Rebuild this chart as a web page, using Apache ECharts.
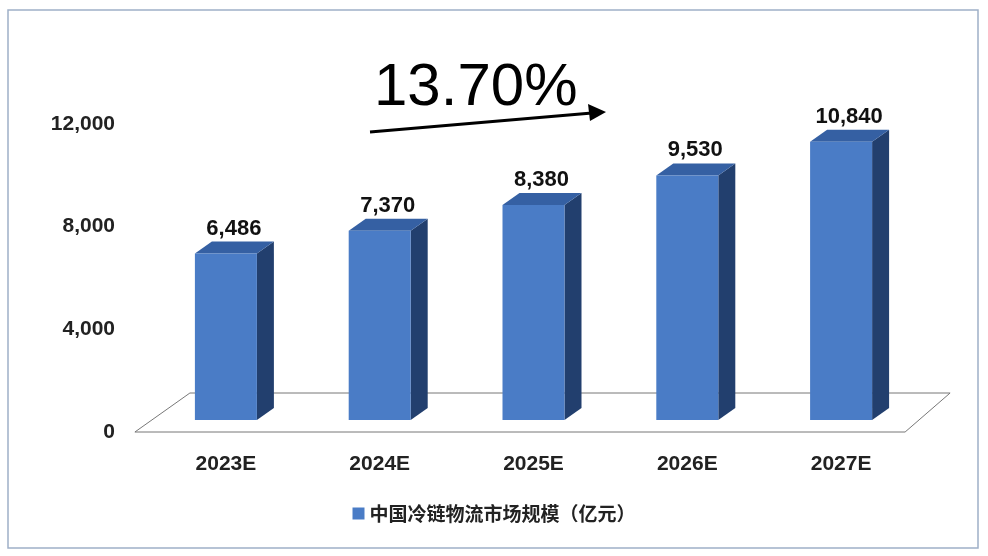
<!DOCTYPE html>
<html>
<head>
<meta charset="UTF-8">
<script src="https://cdn.jsdelivr.net/npm/echarts@6/dist/echarts.min.js"></script>
<style>body{margin:0;background:#fff}#c{width:988px;height:556px}</style>
</head>
<body>
<div id="c"></div>
<script>
var years = ['2023E', '2024E', '2025E', '2026E', '2027E'];
var marketSize = [6486, 7370, 8380, 9530, 10840];
var seriesName = '中国冷链物流市场规模（亿元）';

var chart = echarts.init(document.getElementById('c'));
var LIFT = 12, DX = 17, DY = 12, HALF = 31;

function bar3d(params, api) {
  var top = api.coord([api.value(0), api.value(1)]);
  var base = api.coord([api.value(0), 0]);
  var x0 = top[0] - HALF, x1 = top[0] + HALF;
  var y0 = top[1] - LIFT, y1 = base[1] - LIFT;
  return {
    type: 'group',
    children: [
      { type: 'polygon', shape: { points: [[x1, y0], [x1 + DX, y0 - DY], [x1 + DX, y1 - DY], [x1, y1]] },
        style: { fill: '#223f6e' } },
      { type: 'polygon', shape: { points: [[x0, y0], [x0 + DX, y0 - DY], [x1 + DX, y0 - DY], [x1, y0]] },
        style: { fill: '#3560a3' } },
      { type: 'rect', shape: { x: x0, y: y0, width: x1 - x0, height: y1 - y0 },
        style: { fill: '#4a7cc6' } },
      { type: 'text', x: top[0] + 8, y: y0 - 14,
        style: { text: echarts.format.addCommas(api.value(1)), font: 'bold 22px Arial', fill: '#111', align: 'center', verticalAlign: 'bottom' } }
    ]
  };
}

function floor(params, api) {
  if (params.dataIndex !== 0) return;
  var a = api.coord([0, 0]), b = api.coord([4, 0]);
  var l = a[0] - 91, r = b[0] + 64, y = a[1];
  return { type: 'polygon', silent: true,
    shape: { points: [[l, y], [l + 55, y - 39], [r + 45, y - 39], [r, y]] },
    style: { fill: '#fff', stroke: '#777', lineWidth: 1 } };
}

chart.setOption({
  animation: false,
  grid: { left: 149, right: 70, top: 124, bottom: 124 },
  legend: { bottom: 28, left: 'center', itemWidth: 12, itemHeight: 12, icon: 'rect',
    textStyle: { fontSize: 19, fontWeight: 'bold', color: '#222', fontFamily: 'Noto Sans CJK SC' },
    data: [{ name: seriesName, itemStyle: { color: '#4a7cc6' } }] },
  xAxis: { type: 'category', data: years, axisLine: { show: false }, axisTick: { show: false },
    axisLabel: { fontSize: 21, fontWeight: 'bold', color: '#222', margin: 22, fontFamily: 'Arial' } },
  yAxis: { type: 'value', min: 0, max: 12000, interval: 4000,
    axisLine: { show: false }, axisTick: { show: false }, splitLine: { show: false },
    axisLabel: { fontSize: 21, fontWeight: 'bold', color: '#222', margin: 34, fontFamily: 'Arial',
      formatter: function (v) { return echarts.format.addCommas(v); } } },
  series: [
    { type: 'custom', silent: true, renderItem: floor, data: [[0, 0]], z: 1 },
    { name: seriesName, type: 'custom', renderItem: bar3d, z: 2,
      data: marketSize.map(function (v, i) { return [i, v]; }) }
  ],
  graphic: [
    { type: 'rect', shape: { x: 8, y: 10, width: 970, height: 538 }, style: { fill: 'none', stroke: '#9fb0c8', lineWidth: 1.5 } },
    { type: 'text', left: 374, top: 58, style: { text: '13.70%', font: '500 60px Arial', fill: '#000' } },
    { type: 'line', shape: { x1: 370, y1: 132, x2: 592, y2: 113 }, style: { stroke: '#000', lineWidth: 3 } },
    { type: 'polygon', shape: { points: [[606, 112], [588, 104], [590, 121]] }, style: { fill: '#000' } }
  ]
});
</script>
</body>
</html>
